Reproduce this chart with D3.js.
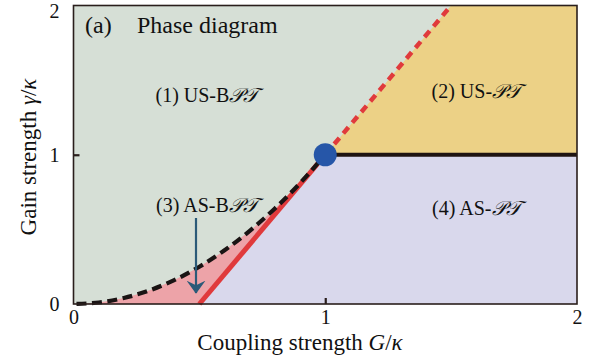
<!DOCTYPE html>
<html>
<head>
<meta charset="utf-8">
<script src="https://cdn.jsdelivr.net/npm/d3@7"></script>
<style>
  html, body { margin: 0; padding: 0; background: #fff; }
  svg { display: block; }
  text { font-family: "Liberation Serif", "DejaVu Serif", serif; fill: #111; }
</style>
</head>
<body>
<svg id="chart" width="595" height="362"></svg>
<script>
// Phase boundaries (G/κ, γ/κ)
const exceptionalCurveG = [0, 0.1, 0.2, 0.3, 0.4, 0.5, 0.6, 0.7, 0.8, 0.9, 1.0];
const exceptionalCurveGamma = [0, 0.01, 0.04, 0.09, 0.16, 0.25, 0.36, 0.49, 0.64, 0.81, 1.0];
const stableLineG = [0.5, 1.0];
const stableLineGamma = [0, 1.0];
const unstableLineG = [1.0, 1.5];
const unstableLineGamma = [1.0, 2.0];
const thresholdG = [1.0, 2.0];
const thresholdGamma = [1.0, 1.0];
const criticalPoint = [1.0, 1.0];
const xTicks = [0, 1, 2];
const yTicks = [0, 1, 2];
const SCRIPT_PT = "\u{1D4AB}\u{1D4AF}";
const phaseLabels = [
  { prefix: "(1) US-B", G: 0.53, gamma: 1.353 },
  { prefix: "(2) US-", G: 1.6, gamma: 1.38 },
  { prefix: "(3) AS-B", G: 0.53, gamma: 0.616 },
  { prefix: "(4) AS-", G: 1.6, gamma: 0.596 }
];

const svg = d3.select("#chart");
const x = d3.scaleLinear().domain([0, 2]).range([73.5, 577]);
const y = d3.scaleLinear().domain([0, 2]).range([304, 5.5]);

const zip = (a, b) => a.map((v, i) => [v, b[i]]);
const curvePts = zip(exceptionalCurveG, exceptionalCurveGamma);
const stablePts = zip(stableLineG, stableLineGamma);
const unstablePts = zip(unstableLineG, unstableLineGamma);

const area = d3.line().x(d => x(d[0])).y(d => y(d[1])).curve(d3.curveLinear);
const smooth = d3.line().x(d => x(d[0])).y(d => y(d[1])).curve(d3.curveMonotoneX);

const [x0, x1] = x.domain();
const [y0, y1] = y.domain();

// (1) background region
svg.append("rect")
  .attr("x", x(x0)).attr("y", y(y1))
  .attr("width", x(x1) - x(x0)).attr("height", y(y0) - y(y1))
  .attr("fill", "#d6dfd6");

// (3) region between the curve and the stable boundary line
const pinkPath = smooth(curvePts) + "L" + [...stablePts].reverse().map(d => x(d[0]) + "," + y(d[1])).join("L") + "Z";
svg.append("path").attr("d", pinkPath).attr("fill", "#eda3a8");

// (4) region below the threshold, right of the boundary line
const lavender = [stablePts[0], stablePts[1], [thresholdG[1], thresholdGamma[1]], [x1, y0]];
svg.append("path").attr("d", area(lavender) + "Z").attr("fill", "#d9d8ec");

// (2) region above the threshold, right of the boundary line
const orange = [unstablePts[0], unstablePts[1], [x1, y1], [thresholdG[1], thresholdGamma[1]]];
svg.append("path").attr("d", area(orange) + "Z").attr("fill", "#ecd186");

// Boundaries
svg.append("path").attr("d", area(stablePts))
  .attr("fill", "none").attr("stroke", "#e03a3c").attr("stroke-width", 5);
svg.append("path").attr("d", area(unstablePts))
  .attr("fill", "none").attr("stroke", "#e03a3c").attr("stroke-width", 4.5)
  .attr("stroke-dasharray", "8,6");
svg.append("path").attr("d", smooth(curvePts))
  .attr("fill", "none").attr("stroke", "#1a1414").attr("stroke-width", 4.2)
  .attr("stroke-dasharray", "10,5.5").attr("stroke-dashoffset", -3);
svg.append("path").attr("d", area(zip(thresholdG, thresholdGamma)))
  .attr("fill", "none").attr("stroke", "#1f1412").attr("stroke-width", 4);

// Critical point
svg.append("circle")
  .attr("cx", x(criticalPoint[0])).attr("cy", y(criticalPoint[1]))
  .attr("r", 11.5).attr("fill", "#2656a8");

// Frame
svg.append("rect")
  .attr("x", x(x0)).attr("y", y(y1))
  .attr("width", x(x1) - x(x0)).attr("height", y(y0) - y(y1))
  .attr("fill", "none").attr("stroke", "#2a1e1c").attr("stroke-width", 1.6);

// Axes with inward ticks
const xAxis = svg.append("g").attr("transform", `translate(0,${y(y0)})`)
  .call(d3.axisBottom(x).tickValues(xTicks).tickSize(-6).tickPadding(6).tickFormat(d3.format("d")));
const yAxis = svg.append("g").attr("transform", `translate(${x(x0)},0)`)
  .call(d3.axisLeft(y).tickValues(yTicks).tickSize(-6).tickPadding(14).tickFormat(d3.format("d")));
[xAxis, yAxis].forEach(g => {
  g.select(".domain").remove();
  g.selectAll(".tick line").attr("stroke", "#2a1e1c").attr("stroke-width", 2.2);
  g.selectAll(".tick text").attr("font-size", 20).attr("font-family", "Liberation Serif").attr("fill", "#111");
});
xAxis.selectAll(".tick line").filter(d => d === x0 || d === x1).remove();
yAxis.selectAll(".tick line").filter(d => d === y0 || d === y1).remove();
yAxis.selectAll(".tick text").filter(d => d === y1).attr("dy", "0.62em");

// Arrow pointing into region (3)
svg.append("defs").append("marker")
  .attr("id", "head").attr("viewBox", "0 0 10 10")
  .attr("preserveAspectRatio", "none")
  .attr("refX", 9.5).attr("refY", 5)
  .attr("markerWidth", 13).attr("markerHeight", 19)
  .attr("markerUnits", "userSpaceOnUse")
  .attr("orient", "auto")
  .append("path").attr("d", "M0,0 L10,5 L0,10 L3.5,5 Z").attr("fill", "#2b5a78");
svg.append("line")
  .attr("x1", 196).attr("y1", 218).attr("x2", 196).attr("y2", 293)
  .attr("stroke", "#2b5a78").attr("stroke-width", 2.2)
  .attr("marker-end", "url(#head)");

// Phase labels
phaseLabels.forEach(p => {
  const t = svg.append("text")
    .attr("x", x(p.G)).attr("y", y(p.gamma))
    .attr("text-anchor", "middle").attr("font-size", 20);
  t.append("tspan").text(p.prefix);
  t.append("tspan").attr("font-family", "DejaVu Serif, serif").attr("font-style", "italic").text(SCRIPT_PT);
});

// Panel title
svg.append("text").attr("x", 85).attr("y", 33).attr("font-size", 24).text("(a)");
svg.append("text").attr("x", 137).attr("y", 33).attr("font-size", 24).text("Phase diagram");

// Axis titles
const xt = svg.append("text").attr("x", 300).attr("y", 350).attr("text-anchor", "middle").attr("font-size", 23);
xt.append("tspan").text("Coupling strength ");
xt.append("tspan").attr("font-style", "italic").text("G");
xt.append("tspan").text("/");
xt.append("tspan").attr("font-style", "italic").text("κ");

const yt = svg.append("text").attr("transform", "translate(36,157) rotate(-90)")
  .attr("text-anchor", "middle").attr("font-size", 23);
yt.append("tspan").text("Gain strength ");
yt.append("tspan").attr("font-style", "italic").text("γ");
yt.append("tspan").text("/");
yt.append("tspan").attr("font-style", "italic").text("κ");
</script>
</body>
</html>
